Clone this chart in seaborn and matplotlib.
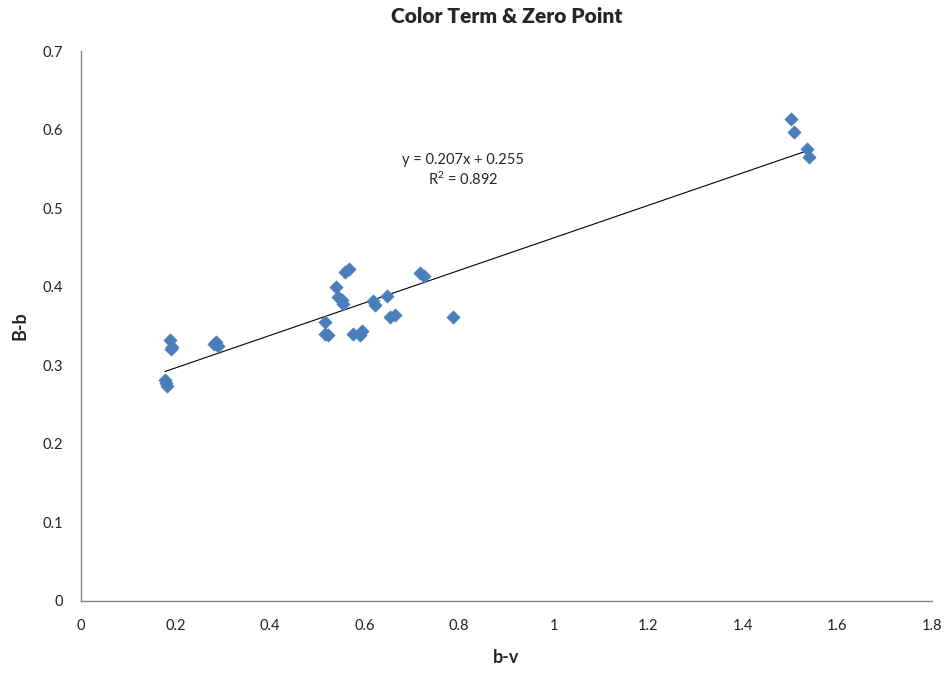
import matplotlib
matplotlib.use("Agg")
import matplotlib.pyplot as plt
import seaborn as sns
import numpy as np
import pandas as pd

# data
bv = [0.178, 0.180, 0.182, 0.188, 0.190, 0.193,
      0.282, 0.287, 0.291,
      0.516, 0.516, 0.524, 0.539, 0.544, 0.552, 0.554, 0.558, 0.567,
      0.575, 0.590, 0.594, 0.618, 0.622, 0.647, 0.654, 0.664,
      0.717, 0.727, 0.787,
      1.502, 1.508, 1.536, 1.541]
Bb = [0.281, 0.277, 0.274, 0.332, 0.320, 0.323,
      0.327, 0.329, 0.325,
      0.355, 0.340, 0.338, 0.399, 0.387, 0.383, 0.378, 0.418, 0.422,
      0.340, 0.339, 0.343, 0.382, 0.376, 0.388, 0.361, 0.364,
      0.417, 0.413, 0.361,
      0.613, 0.597, 0.575, 0.565]
slope = 0.207
intercept = 0.255
x_ticks = [0, 0.2, 0.4, 0.6, 0.8, 1, 1.2, 1.4, 1.6, 1.8]
x_tick_labels = ["0", "0.2", "0.4", "0.6", "0.8", "1", "1.2", "1.4", "1.6", "1.8"]
y_ticks = [0, 0.1, 0.2, 0.3, 0.4, 0.5, 0.6, 0.7]
y_tick_labels = ["0", "0.1", "0.2", "0.3", "0.4", "0.5", "0.6", "0.7"]

sns.set_style("white")
plt.rcParams['font.family'] = ['Lato', 'DejaVu Sans']
plt.rcParams['mathtext.fontset'] = 'custom'
plt.rcParams['mathtext.rm'] = 'Lato'

df = pd.DataFrame({"b-v": bv, "B-b": Bb})

fig = plt.figure(figsize=(9.45, 6.75), dpi=100)
ax = fig.add_axes([0.0854, 0.110, 0.9006, 0.8144])

sns.scatterplot(data=df, x="b-v", y="B-b", ax=ax, marker="D", s=45,
                color="#4a7ebb", edgecolor="#4a7ebb", linewidth=0.5, zorder=3)

xl = np.array([min(bv), max(bv)])
sns.lineplot(x=xl, y=slope * xl + intercept, ax=ax, color="black", linewidth=0.8, zorder=2)

ax.set_xlim(0, 1.8)
ax.set_ylim(0, 0.7)
ax.set_xticks(x_ticks)
ax.set_xticklabels(x_tick_labels)
ax.set_yticks(y_ticks)
ax.set_yticklabels(y_tick_labels)

for s in ["top", "right"]:
    ax.spines[s].set_visible(False)
for s in ["left", "bottom"]:
    ax.spines[s].set_color("#868686")
    ax.spines[s].set_linewidth(1.0)
ax.tick_params(axis="both", direction="out", length=5, width=1, color="#868686",
               labelsize=10.5, labelcolor="#222222", pad=8)

ax.set_xlabel("b-v", fontsize=13, fontweight="bold", labelpad=12)
ax.set_ylabel("B-b", fontsize=13, fontweight="bold", labelpad=10)
ax.set_title("Color Term & Zero Point", fontsize=15, fontweight="heavy", pad=20)

ax.text(0.808, 0.548, "y = 0.207x + 0.255\nR$\\mathrm{^2}$ = 0.892", fontsize=10.5,
        ha="center", va="center", linespacing=1.3)

fig.savefig("out.png", dpi=100)
